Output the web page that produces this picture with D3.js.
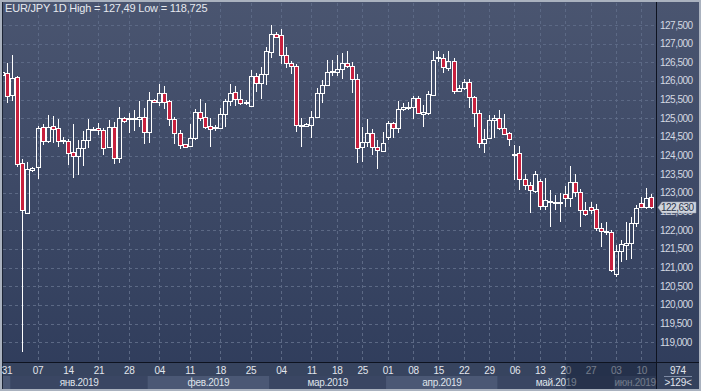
<!DOCTYPE html>
<html><head><meta charset="utf-8">
<script src="https://cdn.jsdelivr.net/npm/d3@7"></script>
<style>html,body{margin:0;padding:0;background:#aab2bf;overflow:hidden}svg{display:block}</style>
</head><body><svg id="c" width="701" height="391"></svg>
<script>
// ---- data ----
const opens  = [126.15,126.22,125.62,126.10,123.79,122.47,123.62,123.70,124.76,124.40,124.79,124.73,124.41,124.38,124.09,123.99,124.20,124.42,124.70,124.73,124.69,124.22,124.76,123.93,125.00,124.98,124.98,124.98,125.04,124.62,125.49,125.43,125.67,125.46,124.97,124.60,124.30,124.26,124.46,125.16,125.03,124.79,124.74,124.73,125.11,125.46,125.70,125.51,125.40,125.33,126.12,125.94,126.20,126.77,127.26,127.23,126.69,126.49,126.40,124.81,124.80,124.81,125.04,125.67,125.89,126.24,126.25,126.31,126.49,126.40,126.04,124.24,124.37,124.60,124.22,124.13,124.49,124.87,124.73,125.24,125.28,125.29,125.54,125.12,125.13,125.62,126.61,126.62,126.36,126.54,125.74,125.82,125.98,125.56,125.13,124.35,124.48,124.95,125.00,124.73,124.60,124.03,124.06,123.36,123.21,123.06,123.33,122.65,122.75,122.73,122.73,122.97,122.86,123.30,123.03,122.54,122.61,122.56,122.05,121.96,121.96,120.83,121.45,121.61,121.65,122.19,122.72,122.62,122.88];
const highs  = [126.30,126.47,126.70,126.12,123.90,123.84,123.70,124.79,124.85,125.09,125.07,124.99,124.51,124.44,124.85,124.42,124.66,124.99,124.76,124.87,124.75,124.95,124.90,125.29,125.04,125.13,125.22,125.47,125.27,125.71,125.53,125.92,125.87,125.49,125.04,124.69,124.32,124.85,125.24,125.51,125.42,125.00,124.82,125.28,125.51,125.91,125.87,125.76,125.49,126.29,126.22,126.37,126.92,127.49,127.30,127.38,126.92,126.53,126.45,125.00,124.87,125.19,125.80,126.03,126.56,126.56,126.70,126.74,126.80,126.52,126.18,124.78,124.97,124.71,124.42,124.63,124.93,124.91,125.46,125.42,125.44,125.60,125.60,125.36,125.72,126.79,126.79,126.71,126.79,126.61,125.89,126.04,126.04,125.60,125.22,124.71,125.09,125.09,125.22,125.12,124.62,124.28,124.26,123.51,123.28,123.60,123.37,123.39,123.08,122.95,122.99,123.19,123.73,123.51,123.10,122.77,122.77,122.70,122.19,122.23,122.01,121.61,121.74,122.23,122.35,122.68,122.90,123.13,122.97];
const lows   = [126.10,125.41,125.47,123.70,118.725,122.45,123.57,123.38,124.29,124.35,124.35,124.22,124.31,123.76,123.39,123.48,123.73,124.20,124.66,124.54,124.02,124.20,123.78,123.79,124.88,124.60,124.66,124.78,124.31,124.33,125.40,125.33,125.24,124.80,124.31,124.17,124.22,124.25,124.42,124.93,124.70,124.22,124.66,124.70,124.76,125.33,125.33,125.36,125.35,125.31,125.71,125.53,125.88,126.61,127.14,126.45,126.36,126.18,124.64,124.24,124.79,124.46,125.00,125.42,125.88,126.12,126.12,126.05,126.34,125.69,123.81,123.84,124.22,124.02,123.63,124.11,124.42,124.46,124.60,125.20,125.22,124.97,125.12,124.78,125.10,125.60,126.52,126.21,126.28,125.65,125.70,125.76,125.27,124.78,124.20,124.08,124.44,124.46,124.69,124.55,124.26,123.35,123.08,123.08,122.47,122.99,122.53,122.54,122.08,122.53,122.23,122.62,122.63,122.90,122.10,122.37,122.44,121.99,121.56,121.87,120.87,120.74,121.16,121.20,121.22,122.08,122.59,122.56,122.56];
const closes = [126.23,125.61,126.07,123.78,122.53,123.64,123.66,124.73,124.40,124.78,124.72,124.40,124.43,124.08,123.99,124.20,124.42,124.70,124.72,124.68,124.20,124.76,123.93,125.00,124.92,125.00,125.00,125.04,124.62,125.49,125.43,125.67,125.45,124.97,124.60,124.29,124.24,124.46,125.18,125.00,124.78,124.72,124.76,125.11,125.46,125.67,125.51,125.40,125.45,126.12,125.94,126.20,126.79,127.26,127.17,126.69,126.49,126.40,124.82,124.83,124.86,125.04,125.67,125.89,126.25,126.26,126.31,126.47,126.40,126.04,124.20,124.37,124.60,124.22,124.15,124.33,124.87,124.73,125.24,125.29,125.30,125.54,125.15,125.18,125.65,126.56,126.63,126.38,126.54,125.74,125.80,125.98,125.56,125.13,124.33,124.44,124.95,125.00,124.73,124.58,124.44,124.05,123.36,123.21,123.08,123.51,122.65,122.81,122.78,122.75,122.75,122.86,123.30,123.03,122.54,122.44,122.54,122.05,121.98,121.98,120.94,121.45,121.63,121.65,122.19,122.59,122.63,122.86,122.63];

const priceTicks = [119,119.5,120,120.5,121,121.5,122,122.5,123,123.5,124,124.5,125,125.5,126,126.5,127,127.5];
const dayTickIndex  = [1,7,13,19,25,31,37,43,49,55,61,66,71,76,81,86,91,96,101,106,111,116,121,126];
const dayTickLabels = ["31","07","14","21","28","04","11","18","25","04","11","18","25","01","08","15","22","29","06","13","20","27","03","10"];
const monthStartIndex = [0,2,29,53,76,98,121];
const monthLabels = ["","янв.2019","фев.2019","мар.2019","апр.2019","май.2019","июн.2019"];
const titleText = "EUR/JPY 1D High = 127,49 Low = 118,725";
const lastPrice = 122.63;
const totalBars = "974";
const visibleBars = ">129<";
const dimFromIndex = 111;

// ---- layout ----
const W = 701, H = 391;
const P = {l:3, r:656, t:3, b:362};
const n = opens.length;
const x = d3.scaleLinear().domain([0, n-1]).range([3, 652.4]);
const step = x(1) - x(0);
const y = d3.scaleLinear().domain([119, 127.5]).range([342.2, 25]);
const fmt = v => d3.format(".3f")(v).replace(".", ",");
const FONT = "'Liberation Sans', Arial, sans-serif";

const svg = d3.select("#c");
const defs = svg.append("defs");
const g1 = defs.append("linearGradient").attr("id","bg").attr("x1",0).attr("y1",0).attr("x2",0).attr("y2",1);
g1.append("stop").attr("offset","0%").attr("stop-color","#4a5570");
g1.append("stop").attr("offset","100%").attr("stop-color","#2f3c5b");
defs.append("clipPath").attr("id","pc").append("rect")
  .attr("x",P.l).attr("y",P.t).attr("width",P.r-P.l).attr("height",P.b-P.t);

// outer frame
svg.append("rect").attr("width",W).attr("height",H).attr("fill","#aab2bf");
svg.append("rect").attr("x",2).attr("y",2).attr("width",W-4).attr("height",H-4).attr("fill","url(#bg)");
// axis area background
svg.append("rect").attr("x",2).attr("y",P.b).attr("width",P.r-2).attr("height",H-2-P.b).attr("fill","#37445f");
svg.append("rect").attr("x",P.r).attr("y",P.b).attr("width",W-2-P.r).attr("height",H-2-P.b).attr("fill","#34415c");

// grid
const grid = svg.append("g").attr("stroke","#5c6985").attr("stroke-dasharray","3,3").attr("stroke-width",1);
grid.selectAll("line.h").data(priceTicks).join("line")
  .attr("x1",P.l).attr("x2",P.r)
  .attr("y1",d=>Math.round(y(d))+0.5).attr("y2",d=>Math.round(y(d))+0.5);
grid.selectAll("line.v").data(dayTickIndex.slice(1)).join("line")
  .attr("x1",d=>Math.round(x(d))-0.5).attr("x2",d=>Math.round(x(d))-0.5)
  .attr("y1",P.t).attr("y2",P.b);

// candles
const cg = svg.append("g").attr("clip-path","url(#pc)");
const idx = d3.range(n);
const cx = i => Math.round(x(i));
cg.selectAll("line.wu").data(idx).join("line")
  .attr("x1",i=>cx(i)-0.5).attr("x2",i=>cx(i)-0.5)
  .attr("y1",i=>Math.round(y(highs[i])))
  .attr("y2",i=>Math.round(y(Math.max(opens[i],closes[i]))))
  .attr("stroke","#ffffff").attr("stroke-width",1);
cg.selectAll("line.wd").data(idx).join("line")
  .attr("x1",i=>cx(i)-0.5).attr("x2",i=>cx(i)-0.5)
  .attr("y1",i=>Math.round(y(Math.min(opens[i],closes[i]))))
  .attr("y2",i=>Math.round(y(lows[i])))
  .attr("stroke","#ffffff").attr("stroke-width",1);
cg.selectAll("rect.b").data(idx).join("rect")
  .attr("x",i=>cx(i)-2.5)
  .attr("width",4)
  .attr("y",i=>Math.round(y(Math.max(opens[i],closes[i])))+0.5)
  .attr("height",i=>Math.max(1, Math.round(y(Math.min(opens[i],closes[i]))) - Math.round(y(Math.max(opens[i],closes[i])))))
  .attr("fill",i=>closes[i] < opens[i] ? "#c8203e" : "none")
  .attr("stroke","#ffffff").attr("stroke-width",1);

// separators
svg.append("line").attr("x1",P.r+0.5).attr("x2",P.r+0.5).attr("y1",2).attr("y2",H-2).attr("stroke","#0e1320");
svg.append("line").attr("x1",2).attr("x2",W-2).attr("y1",P.b+0.5).attr("y2",P.b+0.5).attr("stroke","#0e1320");
svg.append("line").attr("x1",2.5).attr("x2",2.5).attr("y1",2).attr("y2",H-2).attr("stroke","#1c2435");

// title
svg.append("text").attr("x",5).attr("y",12).attr("font-family",FONT).attr("font-size",11)
  .attr("letter-spacing","-0.2").attr("fill","#e6e9ef").text(titleText);

// right axis labels
svg.append("g").selectAll("text").data(priceTicks).join("text")
  .attr("x",660).attr("y",d=>y(d)+3.5)
  .attr("font-family",FONT).attr("font-size",10).attr("letter-spacing","-0.5")
  .attr("fill","#d4d9e2").text(d=>fmt(d));

// last price tag
const ly = Math.round(y(lastPrice))+0.5;
svg.append("path")
  .attr("d",`M${P.r+2},${ly} L${P.r+6},${ly-5.5} L${W-5},${ly-5.5} L${W-5},${ly+5.5} L${P.r+6},${ly+5.5} Z`)
  .attr("fill","#cfd4dc").attr("stroke","#9aa3b3").attr("stroke-width",0.5);
svg.append("text").attr("x",661).attr("y",ly+3.5).attr("font-family",FONT).attr("font-size",10)
  .attr("letter-spacing","-0.5").attr("fill","#2c364c").text(fmt(lastPrice));

// month bands
const bandEdges = monthStartIndex.map(i => Math.max(P.l, x(i) - step/2)).concat([P.r]);
const mb = svg.append("g");
mb.selectAll("rect").data(monthLabels).join("rect")
  .attr("x",(d,i)=>bandEdges[i]).attr("width",(d,i)=>bandEdges[i+1]-bandEdges[i])
  .attr("y",376).attr("height",H-2-376)
  .attr("fill",(d,i)=> i%2===0 ? "#4b5875" : "#3a4663");
mb.selectAll("text").data(monthLabels).join("text")
  .attr("x",(d,i)=>(bandEdges[i]+bandEdges[i+1])/2).attr("y",385.5)
  .attr("text-anchor","middle").attr("font-family",FONT).attr("font-size",10)
  .attr("letter-spacing","-0.3").attr("fill","#dfe3ea").text(d=>d);

// day labels
svg.append("g").selectAll("text").data(dayTickIndex).join("text")
  .attr("x",(d,i)=> i===0 ? 7 : x(d)-0.5).attr("y",374)
  .attr("text-anchor","middle").attr("font-family",FONT).attr("font-size",10)
  .attr("letter-spacing","-0.3").attr("fill","#e2e6ed").text((d,i)=>dayTickLabels[i]);

// dim overlay on the axis (selection)
svg.append("rect").attr("x",x(dimFromIndex)).attr("width",P.r-x(dimFromIndex))
  .attr("y",P.b+1).attr("height",H-3-P.b).attr("fill","#18223a").attr("opacity",0.55);

// bottom-right info
svg.append("text").attr("x",678).attr("y",374).attr("text-anchor","middle").attr("font-family",FONT)
  .attr("font-size",10).attr("letter-spacing","-0.3").attr("fill","#e2e6ed").text(totalBars);
svg.append("line").attr("x1",664).attr("x2",692).attr("y1",376.5).attr("y2",376.5).attr("stroke","#7d8aa3");
svg.append("text").attr("x",678).attr("y",386).attr("text-anchor","middle").attr("font-family",FONT)
  .attr("font-size",10).attr("letter-spacing","-0.3").attr("fill","#e2e6ed").text(visibleBars);
</script></body></html>
